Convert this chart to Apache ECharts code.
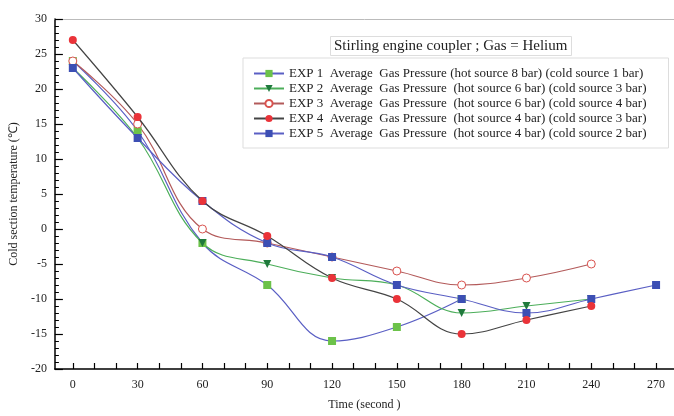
<!DOCTYPE html>
<html>
<head>
<meta charset="utf-8">
<script src="https://cdn.jsdelivr.net/npm/echarts@6/dist/echarts.min.js"></script>
<style>
  html, body { margin: 0; padding: 0; background: #fff; }
  #chart { width: 674px; height: 416px; }
</style>
</head>
<body>
<div id="chart"></div>
<script>
// time axis (second)
const times = [0, 30, 60, 90, 120, 150, 180, 210, 240, 270]
const xLabels = [0, 30, 60, 90, 120, 150, 180, 210, 240, 270]
const xTickValues = [0, 10, 20, 30, 40, 50, 60, 70, 80, 90, 100, 110, 120, 130, 140, 150, 160, 170, 180, 190, 200, 210, 220, 230, 240, 250, 260, 270]

// cold section temperature per experiment
const exp1 = [24, 14, -2, -8, -16, -14, -10]
const exp2 = [23, 13, -2, -5, -7, -8, -12, -11, -10]
const exp3 = [24, 15, 0, -2, -4, -6, -8, -7, -5]
const exp4 = [27, 16, 4, -1, -7, -10, -15, -13, -11]
const exp5 = [23, 13, 4, -2, -4, -8, -10, -12, -10, -8]

const names = [
  'EXP 1  Average  Gas Pressure (hot source 8 bar) (cold source 1 bar)',
  'EXP 2  Average  Gas Pressure  (hot source 6 bar) (cold source 3 bar)',
  'EXP 3  Average  Gas Pressure  (hot source 6 bar) (cold source 4 bar)',
  'EXP 4  Average  Gas Pressure  (hot source 4 bar) (cold source 3 bar)',
  'EXP 5  Average  Gas Pressure  (hot source 4 bar) (cold source 2 bar)'
]

const font = 'Liberation Serif'
const pairs = vals => vals.map((v, i) => [times[i], v])

const chart = echarts.init(document.getElementById('chart'))

function line(name, vals, lineColor, itemStyle, symbol, extra) {
  return Object.assign({
    name,
    type: 'line',
    data: pairs(vals),
    smooth: 0.4,
    symbol,
    symbolSize: 8,
    showAllSymbol: true,
    lineStyle: { color: lineColor, width: 1.2, type: 'solid' },
    itemStyle,
    animation: false
  }, extra || {})
}

const xBase = {
  type: 'value',
  min: -8.3,
  max: 278.3,
  splitLine: { show: false }
}

chart.setOption({
  backgroundColor: '#fff',
  title: {
    text: 'Stirling engine coupler ; Gas = Helium',
    left: 330,
    top: 36,
    padding: [3, 4, 2, 4],
    borderColor: '#ddd',
    borderWidth: 1,
    textStyle: { fontFamily: font, fontSize: 15, fontWeight: 'normal', color: '#222' }
  },
  legend: {
    orient: 'vertical',
    left: 243,
    top: 58,
    padding: [9, 22, 8, 10],
    itemGap: 2,
    itemWidth: 30,
    itemHeight: 9,
    backgroundColor: '#fff',
    borderColor: '#ddd',
    borderWidth: 1,
    textStyle: { fontFamily: font, fontSize: 13, color: '#222' },
    data: names
  },
  grid: { left: 52, right: 0, top: 19, bottom: 46 },
  xAxis: [
    Object.assign({}, xBase, {
      position: 'bottom',
      name: 'Time (second )',
      nameLocation: 'middle',
      nameGap: 30,
      nameTextStyle: { fontFamily: font, fontSize: 12, color: '#222' },
      axisLine: { onZero: false, lineStyle: { color: '#000', width: 1.5 } },
      axisTick: { inside: true, length: 6, customValues: xTickValues, lineStyle: { color: '#000', width: 1.2 } },
      axisLabel: { customValues: xLabels, margin: 10, fontFamily: font, fontSize: 12, color: '#222' }
    }),
    Object.assign({}, xBase, {
      position: 'top',
      axisLine: { show: true, onZero: false, lineStyle: { color: '#bbb', width: 1 } },
      axisTick: { show: false },
      axisLabel: { show: false }
    })
  ],
  yAxis: {
    type: 'value',
    min: -20,
    max: 30,
    interval: 5,
    name: 'Cold section temperature (\u2103)',
    nameLocation: 'middle',
    nameGap: 33,
    nameTextStyle: { fontFamily: font, fontSize: 12, color: '#222' },
    axisLine: { show: true, onZero: false, lineStyle: { color: '#000', width: 1.5 } },
    axisTick: { inside: true, length: 8, lineStyle: { color: '#000', width: 1.2 } },
    minorTick: { show: true, splitNumber: 5, length: 4, lineStyle: { color: '#000', width: 1 } },
    axisLabel: { margin: 8, fontFamily: font, fontSize: 12, color: '#222' },
    splitLine: { show: false }
  },
  series: [
    line(names[0], exp1, '#5a5fc4', { color: '#6cc24a' }, 'rect'),
    line(names[1], exp2, '#4cae5a', { color: '#1f7a3c' }, 'path://M0,0 L10,0 L5,9 Z'),
    line(names[2], exp3, '#b35a5a', { color: '#ffffff', borderColor: '#d9534f', borderWidth: 1 }, 'circle'),
    line(names[4], exp5, '#5a5fc4', { color: '#3c4fb4' }, 'rect'),
    line(names[3], exp4, '#444444', { color: '#ea3339' }, 'circle', { z: 5 })
  ]
})
</script>
</body>
</html>
